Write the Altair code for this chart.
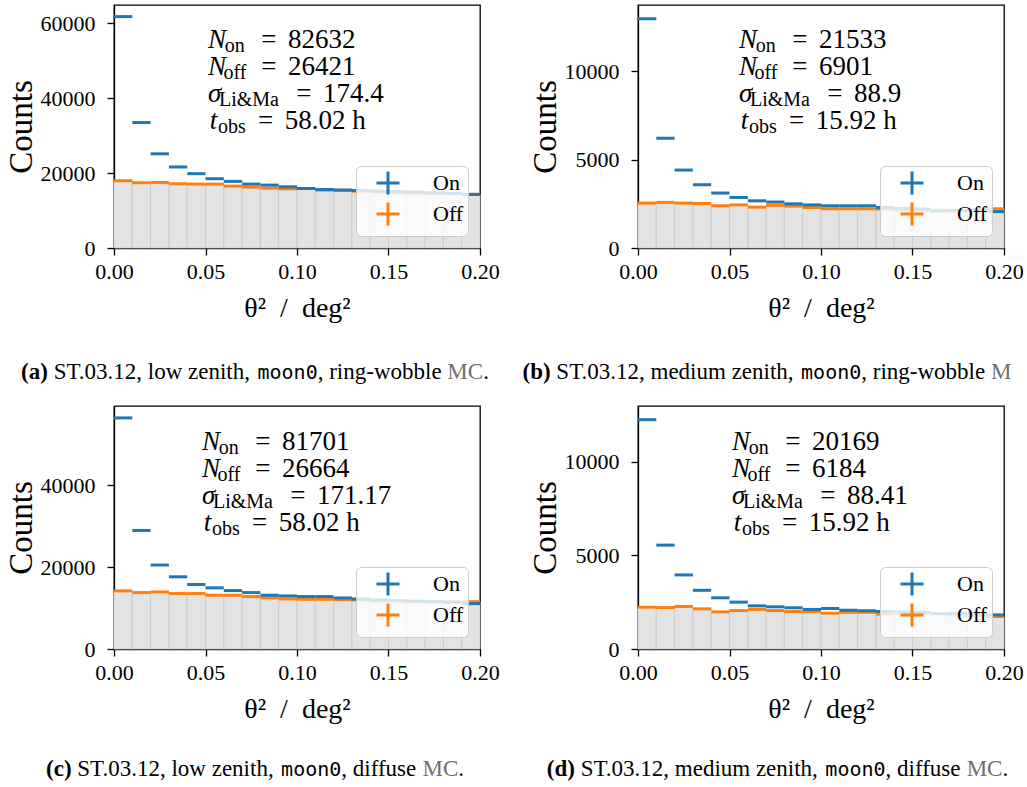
import altair as alt
import pandas as pd

# ---------------- data ----------------
bin_lo = [round(i * 0.01, 2) for i in range(20)]
bin_hi = [round((i + 1) * 0.01, 2) for i in range(20)]

on_a = [61700, 33450, 25110, 21610, 19820, 18480, 17760, 17040, 16770, 16320,
        15870, 15600, 15430, 15340, 15160, 15070, 14890, 14710, 14530, 14260]
off_a = [17940, 17400, 17490, 17130, 17040, 17040, 16500, 16230, 15960, 15790,
         15870, 15430, 15430, 15160, 14980, 14800, 14710, 14620, 14530, 14350]
on_b = [12970, 6210, 4410, 3580, 3110, 2860, 2670, 2600, 2500, 2440,
        2390, 2390, 2390, 2290, 2240, 2200, 2100, 2120, 2140, 2060]
off_b = [2540, 2580, 2540, 2520, 2390, 2440, 2310, 2410, 2370, 2290,
         2220, 2220, 2220, 2200, 2140, 2140, 2100, 2100, 2160, 2220]
on_c = [56390, 28930, 20490, 17620, 15740, 14920, 14260, 13770, 13120, 12950,
        12790, 12790, 12460, 12210, 11970, 11800, 11640, 11560, 11390, 11070]
off_c = [14180, 13770, 13930, 13530, 13530, 13120, 13120, 12790, 12460, 12210,
         12130, 12130, 12050, 11970, 11800, 11720, 11640, 11560, 11560, 11560]
on_d = [12230, 5540, 3950, 3130, 2730, 2500, 2300, 2250, 2200, 2110,
        2160, 2070, 2040, 2000, 1980, 1950, 1890, 1910, 1880, 1820]
off_d = [2230, 2210, 2270, 2140, 1980, 2050, 2110, 2050, 2000, 2000,
         1910, 1960, 1960, 1860, 1910, 1930, 1880, 1820, 1800, 1730]

on_all = [on_a, on_b, on_c, on_d]
off_all = [off_a, off_b, off_c, off_d]

y_max = [64800, 13750, 59300, 12960]
y_ticks = [[0, 20000, 40000, 60000], [0, 5000, 10000], [0, 20000, 40000], [0, 5000, 10000]]
x_ticks = [0.0, 0.05, 0.10, 0.15, 0.20]

n_on = ["82632", "21533", "81701", "20169"]
n_off = ["26421", "6901", "26664", "6184"]
sigma = ["174.4", "88.9", "171.17", "88.41"]
t_obs = ["58.02 h", "15.92 h", "58.02 h", "15.92 h"]

cap_label = ["(a)", "(b)", "(c)", "(d)"]
cap_zenith = ["low", "medium", "low", "medium"]
cap_mc = ["ring-wobble", "ring-wobble", "diffuse", "diffuse"]
series_names = ["On", "Off"]

# ---------------- style ----------------
BLUE = "#1f77b4"
ORANGE = "#ff7f0e"
SERIF = "Liberation Serif"
MONO = "DejaVu Sans Mono"
W, H = 366, 243
SPACING = 158

# Times-like advance widths (per 1000 em) to chain caption segments
W_REG = {' ': 250, '(': 333, ')': 333, '.': 250, ',': 250, '-': 333, 'S': 556, 'T': 611,
         'M': 889, 'C': 667, 'a': 444, 'b': 500, 'c': 444, 'd': 500, 'e': 444, 'f': 333,
         'g': 500, 'h': 500, 'i': 278, 'l': 278, 'm': 778, 'n': 500, 'o': 500, 'r': 333,
         's': 389, 't': 278, 'u': 500, 'w': 722, 'z': 444}
W_BOLD = {'(': 333, ')': 333, 'a': 500, 'b': 556, 'c': 444, 'd': 556}


def tw(s, size, kind):
    if kind == "mono":
        return len(s) * 0.602 * size
    tab = W_BOLD if kind == "bold" else W_REG
    return sum(tab.get(ch, 500) for ch in s) * size / 1000.0


def txt(s, x, y, size, font=SERIF, style="normal", weight="normal", color="black",
        align="left", limit=None):
    kw = dict(align=align, baseline="alphabetic", font=font, fontSize=size,
              fontStyle=style, fontWeight=weight, color=color)
    if limit is not None:
        kw["limit"] = limit
        kw["ellipsis"] = "\u200b"
    return alt.Chart(pd.DataFrame({"t": [s]})).mark_text(**kw).encode(
        text="t:N", x=alt.value(x), y=alt.value(y))


stat_origin = [(94, 42.7), (101, 42.7), (88, 44.3), (94, 44.0)]
cap_center = [141, 139.5, 141, 139.5]
cap_base = [374, 374, 370, 370]
CAP_SIZE = 23
MONO_SIZE = 20


def panel(i):
    xsc = alt.Scale(domain=[0, 0.2], nice=False, zero=False)
    ysc = alt.Scale(domain=[0, y_max[i]], nice=False)
    xax = alt.Axis(values=x_ticks, format=".2f", title="θ²\u2002/\u2002deg²", labelFlush=False)
    yax = alt.Axis(values=y_ticks[i], format="d", title="Counts")

    df_bar = pd.DataFrame({"lo": bin_lo, "hi": bin_hi, "off": off_all[i]})
    bars = alt.Chart(df_bar).mark_bar(fill="#e3e3e3", stroke="#c8c8c8", strokeWidth=0.8).encode(
        x=alt.X("lo:Q", scale=xsc, axis=xax),
        x2="hi:Q",
        y=alt.Y("off:Q", scale=ysc, axis=yax),
        y2=alt.datum(0),
    )

    rows = []
    for name, vals in (("Off", off_all[i]), ("On", on_all[i])):
        for lo, hi, v in zip(bin_lo, bin_hi, vals):
            rows.append({"series": name, "lo": lo, "hi": hi, "val": v})
    df_pts = pd.DataFrame(rows)
    rules = alt.Chart(df_pts).mark_rule(strokeWidth=3, strokeCap="butt").encode(
        x="lo:Q", x2="hi:Q", y="val:Q",
        color=alt.Color("series:N",
                        scale=alt.Scale(domain=series_names, range=[BLUE, ORANGE]),
                        legend=alt.Legend(title=None, orient="bottom-right", offset=12,
                                          fillColor="rgba(255,255,255,0.8)",
                                          strokeColor="#cccccc", cornerRadius=5,
                                          padding=4, symbolType="M-1,0H1M0,-1V1",
                                          symbolSize=529, symbolStrokeWidth=3,
                                          symbolOffset=15, labelOffset=32,
                                          labelFont=SERIF, labelFontSize=22,
                                          labelColor="black", rowPadding=-6)),
    )

    layers = [bars, rules]

    # statistics box
    x0, y0 = stat_origin[i]
    lines = [("N", "on", n_on[i]), ("N", "off", n_off[i]), ("σ", "Li&Ma", sigma[i]),
             ("t", "obs", t_obs[i])]
    sym_dx = [0, 0, 0, 1.7]
    sub_dx = [16.7, 15.5, 11, 10]
    eq_dx = [53.3, 53.3, 88.3, 50]
    for k, (sym, sub, val) in enumerate(lines):
        yb = y0 + 27 * k
        layers.append(txt(sym, x0 + sym_dx[k], yb, 27, style="italic"))
        layers.append(txt(sub, x0 + sub_dx[k], yb + 4, 20))
        layers.append(txt("=", x0 + eq_dx[k], yb, 27))
        layers.append(txt(val, x0 + eq_dx[k] + 26.7, yb, 27))

    # caption
    segs = [(cap_label[i], "bold"), (" ST.03.12, " + cap_zenith[i] + " zenith, ", "reg"),
            ("moon0", "mono"), (", " + cap_mc[i] + " ", "reg"), ("MC", "grey"), (".", "reg")]
    widths = [tw(s, MONO_SIZE if k == "mono" else CAP_SIZE, k if k != "grey" else "reg")
              for s, k in segs]
    cx = cap_center[i] - sum(widths) / 2.0
    right_limit = 1024 - (114 + (W + SPACING) * (i % 2))
    for (s, kind), wdt in zip(segs, widths):
        lead = len(s) - len(s.lstrip(" "))
        xs = cx + tw(" " * lead, CAP_SIZE, "reg")
        body = s.strip(" ")
        room = right_limit - xs
        if room > 2:
            lim = room if xs + wdt > right_limit else None
            if kind == "bold":
                layers.append(txt(body, xs, cap_base[i], CAP_SIZE, weight="bold", limit=lim))
            elif kind == "mono":
                layers.append(txt(body, xs, cap_base[i], MONO_SIZE, font=MONO, limit=lim))
            elif kind == "grey":
                layers.append(txt(body, xs, cap_base[i], CAP_SIZE, color="#6f6f6f", limit=lim))
            else:
                layers.append(txt(body, xs, cap_base[i], CAP_SIZE, limit=lim))
        cx += wdt

    return alt.layer(*layers).properties(width=W, height=H)


chart = alt.concat(*[panel(i) for i in range(4)], columns=2, spacing=SPACING).properties(
    bounds="flush",
    background="white",
    padding={"left": 4, "top": 4, "right": 0, "bottom": 5},
).resolve_scale(color="independent").configure_view(
    stroke="black", strokeWidth=1.3
).configure_axis(
    domainColor="black", domainWidth=1.3, tickColor="black", tickWidth=1.3, tickSize=7,
    labelFont=SERIF, labelFontSize=22, labelColor="black", labelPadding=6,
    titleFont=SERIF, titleColor="black", titleFontWeight="normal", grid=False,
).configure_axisX(
    titleFontSize=28, titlePadding=12,
).configure_axisY(
    titleFontSize=33, titlePadding=2, labelPadding=12,
)

chart.save("out.html", embed_options={"renderer": "svg", "actions": False})
